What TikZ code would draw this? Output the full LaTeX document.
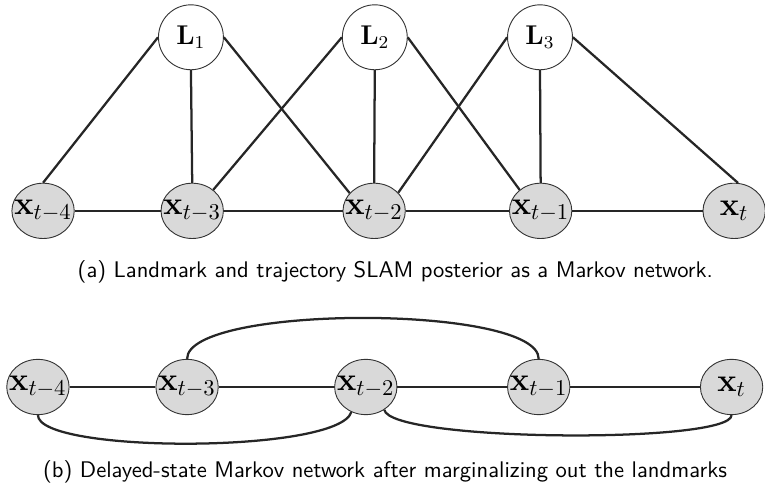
\documentclass[tikz,border=0pt]{standalone}
\usetikzlibrary{shapes.geometric}
\newcommand{\posetext}[1]{\makebox[0pt]{$\mathbf{x}_{#1}$}}
\begin{document}
\begin{tikzpicture}[
        pose/.style={ellipse, draw=black!80, thin, fill=black!15, minimum width=0.97cm, minimum height=0.86cm, inner sep=0pt, font=\Large},
        landmark/.style={circle, draw=black!80, thin, fill=white, minimum size=1.01cm, inner sep=0pt, font=\large},
        edge/.style={line width=1pt, black!85}]
    \useasboundingbox (0,0) rectangle (11.9,7.65);
    % Landmarks
    \foreach \n/\x in {1/2.97, 2/5.83, 3/8.40} {
            \node[landmark] (L\n) at (\x, 7.07) {$\mathbf{L}_\n$};
        }
    % Poses, network (a)
    \foreach \n/\x/\l in {4/0.67/t-4, 3/2.99/t-3, 2/5.82/t-2, 1/8.41/t-1, 0/11.42/t} {
            \node[pose] (a\n) at (\x, 4.37) {\posetext{\l}};
        }
    \foreach \i/\j in {4/3, 3/2, 2/1, 1/0} {
            \draw[edge] (a\i) -- (a\j);
        }
    \draw[edge] (L1.west) -- (a4.north);
    \draw[edge] (L1.south) -- (a3.north);
    \draw[edge] (L1.east) -- (a2.144);
    \draw[edge] (L2.west) -- (a3.45);
    \draw[edge] (L2.south) -- (a2.north);
    \draw[edge] (L2.east) -- (a1.135);
    \draw[edge] (L3.west) -- (a2.37);
    \draw[edge] (L3.south) -- (a1.north);
    \draw[edge] (L3.east) -- (a0.82);
    \node[font=\sffamily] (capa) at (6.15, 3.42) {(a) Landmark and trajectory SLAM posterior as a Markov network.};
    % Poses, network (b)
    \foreach \n/\x/\l in {4/0.59/t-4, 3/2.91/t-3, 2/5.69/t-2, 1/8.38/t-1, 0/11.38/t} {
            \node[pose] (b\n) at (\x, 1.63) {\posetext{\l}};
        }
    \foreach \i/\j in {4/3, 3/2, 2/1, 1/0} {
            \draw[edge] (b\i) -- (b\j);
        }
    \draw[edge] (b3.north) .. controls +(0,0.85) and +(0,0.85) .. (b1.north);
    \draw[edge] (b4.south) .. controls +(0,-0.6) and +(-0.2,-0.65) .. (b2.240);
    \draw[edge] (b2.309) .. controls +(0.1,-0.5) and +(0,-0.45) .. (b0.south);
    \node[font=\sffamily] (capb) at (5.99, 0.31) {(b) Delayed-state Markov network after marginalizing out the landmarks};
\end{tikzpicture}
\end{document}
